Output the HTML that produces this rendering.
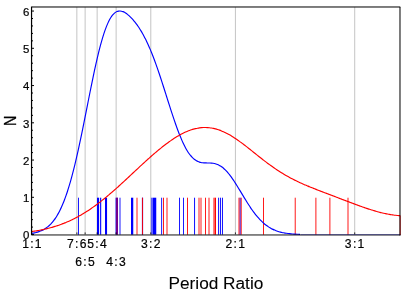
<!DOCTYPE html>
<html><head><meta charset="utf-8"><title>Period Ratio</title>
<style>html,body{margin:0;padding:0;background:#fff;width:407px;height:293px;overflow:hidden;font-family:"Liberation Sans",sans-serif}</style></head>
<body>
<svg width="407" height="293" viewBox="0 0 407 293" style="display:block;position:absolute;left:0;top:0">
<rect width="407" height="293" fill="#fff"/>
<line x1="76.85" y1="7" x2="76.85" y2="234.7" stroke="#c4c4c4" stroke-width="1"/>
<line x1="85.14" y1="7" x2="85.14" y2="234.7" stroke="#c4c4c4" stroke-width="1"/>
<line x1="97.15" y1="7" x2="97.15" y2="234.7" stroke="#c4c4c4" stroke-width="1"/>
<line x1="116.14" y1="7" x2="116.14" y2="234.7" stroke="#c4c4c4" stroke-width="1"/>
<line x1="150.79" y1="7" x2="150.79" y2="234.7" stroke="#c4c4c4" stroke-width="1"/>
<line x1="235.42" y1="7" x2="235.42" y2="234.7" stroke="#c4c4c4" stroke-width="1"/>
<line x1="354.71" y1="7" x2="354.71" y2="234.7" stroke="#c4c4c4" stroke-width="1"/>
<rect x="78.05" y="197.7" width="0.90" height="37" fill="#0000ff" fill-opacity="1"/>
<rect x="97.00" y="197.7" width="2.10" height="37" fill="#0000ff" fill-opacity="1"/>
<rect x="100.10" y="197.7" width="1.10" height="37" fill="#0000ff" fill-opacity="1"/>
<rect x="105.00" y="197.7" width="2.05" height="37" fill="#0000ff" fill-opacity="1"/>
<rect x="115.60" y="197.7" width="2.40" height="37" fill="#0000ff" fill-opacity="1"/>
<rect x="119.55" y="197.7" width="0.90" height="37" fill="#0000ff" fill-opacity="1"/>
<rect x="131.00" y="197.7" width="2.25" height="37" fill="#0000ff" fill-opacity="1"/>
<rect x="141.90" y="197.7" width="1.20" height="37" fill="#0000ff" fill-opacity="1"/>
<rect x="150.90" y="197.7" width="2.10" height="37" fill="#0000ff" fill-opacity="0.6"/>
<rect x="153.00" y="197.7" width="3.25" height="37" fill="#0000ff" fill-opacity="1"/>
<rect x="161.20" y="197.7" width="0.90" height="37" fill="#0000ff" fill-opacity="1"/>
<rect x="179.05" y="197.7" width="0.90" height="37" fill="#0000ff" fill-opacity="1"/>
<rect x="183.05" y="197.7" width="0.90" height="37" fill="#0000ff" fill-opacity="1"/>
<rect x="194.10" y="197.7" width="0.95" height="37" fill="#0000ff" fill-opacity="1"/>
<rect x="218.15" y="197.7" width="0.95" height="37" fill="#0000ff" fill-opacity="1"/>
<rect x="220.05" y="197.7" width="0.90" height="37" fill="#0000ff" fill-opacity="1"/>
<rect x="221.95" y="197.7" width="0.95" height="37" fill="#0000ff" fill-opacity="1"/>
<rect x="239.60" y="197.7" width="1.00" height="37" fill="#0000ff" fill-opacity="1"/>
<rect x="116.55" y="197.7" width="0.90" height="37" fill="#ff0000" fill-opacity="1"/>
<rect x="136.55" y="197.7" width="0.90" height="37" fill="#ff0000" fill-opacity="1"/>
<rect x="142.00" y="197.7" width="0.90" height="37" fill="#ff0000" fill-opacity="1"/>
<rect x="163.00" y="197.7" width="0.90" height="37" fill="#ff0000" fill-opacity="1"/>
<rect x="166.55" y="197.7" width="0.90" height="37" fill="#ff0000" fill-opacity="1"/>
<rect x="187.05" y="197.7" width="0.90" height="37" fill="#ff0000" fill-opacity="1"/>
<rect x="198.55" y="197.7" width="0.90" height="37" fill="#ff0000" fill-opacity="1"/>
<rect x="200.55" y="197.7" width="0.90" height="37" fill="#ff0000" fill-opacity="1"/>
<rect x="205.05" y="197.7" width="0.90" height="37" fill="#ff0000" fill-opacity="1"/>
<rect x="208.55" y="197.7" width="0.90" height="37" fill="#ff0000" fill-opacity="1"/>
<rect x="213.50" y="197.7" width="0.90" height="37" fill="#ff0000" fill-opacity="1"/>
<rect x="214.60" y="197.7" width="1.40" height="37" fill="#ff0000" fill-opacity="1"/>
<rect x="238.55" y="197.7" width="0.90" height="37" fill="#ff0000" fill-opacity="1"/>
<rect x="240.78" y="197.7" width="0.87" height="37" fill="#ff0000" fill-opacity="1"/>
<rect x="263.05" y="197.7" width="0.90" height="37" fill="#ff0000" fill-opacity="1"/>
<rect x="294.75" y="197.7" width="0.90" height="37" fill="#ff0000" fill-opacity="1"/>
<rect x="315.45" y="197.7" width="0.90" height="37" fill="#ff0000" fill-opacity="1"/>
<rect x="329.45" y="197.7" width="0.90" height="37" fill="#ff0000" fill-opacity="1"/>
<rect x="347.55" y="197.7" width="0.90" height="37" fill="#ff0000" fill-opacity="1"/>
<path d="M31.50,233.41 C31.75,233.37 32.50,233.26 33.00,233.16 C33.50,233.07 34.00,232.97 34.50,232.87 C35.00,232.76 35.50,232.64 36.00,232.51 C36.50,232.39 37.00,232.25 37.50,232.10 C38.00,231.95 38.50,231.79 39.00,231.62 C39.50,231.44 40.00,231.25 40.50,231.05 C41.00,230.85 41.50,230.63 42.00,230.39 C42.50,230.16 43.00,229.90 43.50,229.63 C44.00,229.36 44.50,229.07 45.00,228.75 C45.50,228.44 46.00,228.10 46.50,227.74 C47.00,227.38 47.50,227.00 48.00,226.59 C48.50,226.18 49.00,225.74 49.50,225.27 C50.00,224.81 50.50,224.31 51.00,223.79 C51.50,223.26 52.00,222.70 52.50,222.10 C53.00,221.51 53.50,220.88 54.00,220.21 C54.50,219.55 55.00,218.84 55.50,218.10 C56.00,217.35 56.50,216.57 57.00,215.74 C57.50,214.91 58.00,214.04 58.50,213.12 C59.00,212.20 59.50,211.24 60.00,210.23 C60.50,209.22 61.00,208.16 61.50,207.05 C62.00,205.94 62.50,204.78 63.00,203.56 C63.50,202.35 64.00,201.09 64.50,199.77 C65.00,198.45 65.50,197.08 66.00,195.65 C66.50,194.22 67.00,192.74 67.50,191.20 C68.00,189.67 68.50,188.07 69.00,186.43 C69.50,184.78 70.00,183.07 70.50,181.31 C71.00,179.56 71.50,177.74 72.00,175.88 C72.50,174.01 73.00,172.09 73.50,170.12 C74.00,168.14 74.50,166.12 75.00,164.05 C75.50,161.98 76.00,159.85 76.50,157.69 C77.00,155.52 77.50,153.31 78.00,151.05 C78.50,148.80 79.00,146.51 79.50,144.18 C80.00,141.85 80.50,139.48 81.00,137.09 C81.50,134.69 82.00,132.26 82.50,129.81 C83.00,127.37 83.50,124.89 84.00,122.40 C84.50,119.91 85.00,117.40 85.50,114.89 C86.00,112.38 86.50,109.85 87.00,107.33 C87.50,104.80 88.00,102.27 88.50,99.76 C89.00,97.24 89.50,94.73 90.00,92.24 C90.50,89.75 91.00,87.27 91.50,84.82 C92.00,82.37 92.50,79.94 93.00,77.55 C93.50,75.16 94.00,72.79 94.50,70.48 C95.00,68.16 95.50,65.88 96.00,63.66 C96.50,61.44 97.00,59.26 97.50,57.14 C98.00,55.03 98.50,52.96 99.00,50.97 C99.50,48.97 100.00,47.04 100.50,45.17 C101.00,43.31 101.50,41.51 102.00,39.79 C102.50,38.07 103.00,36.43 103.50,34.86 C104.00,33.29 104.50,31.79 105.00,30.38 C105.50,28.97 106.00,27.64 106.50,26.39 C107.00,25.14 107.50,23.97 108.00,22.88 C108.50,21.79 109.00,20.78 109.50,19.85 C110.00,18.92 110.50,18.08 111.00,17.30 C111.50,16.53 112.00,15.84 112.50,15.22 C113.00,14.60 113.50,14.06 114.00,13.59 C114.50,13.11 115.00,12.71 115.50,12.38 C116.00,12.04 116.50,11.77 117.00,11.56 C117.50,11.35 118.00,11.21 118.50,11.11 C119.00,11.02 119.50,10.99 120.00,11.00 C120.50,11.01 121.00,11.08 121.50,11.19 C122.00,11.30 122.50,11.45 123.00,11.65 C123.50,11.84 124.00,12.08 124.50,12.35 C125.00,12.61 125.50,12.92 126.00,13.26 C126.50,13.59 127.00,13.96 127.50,14.36 C128.00,14.76 128.50,15.18 129.00,15.63 C129.50,16.08 130.00,16.56 130.50,17.06 C131.00,17.56 131.50,18.08 132.00,18.62 C132.50,19.17 133.00,19.74 133.50,20.33 C134.00,20.92 134.50,21.53 135.00,22.17 C135.50,22.80 136.00,23.46 136.50,24.14 C137.00,24.82 137.50,25.52 138.00,26.25 C138.50,26.97 139.00,27.72 139.50,28.50 C140.00,29.27 140.50,30.07 141.00,30.90 C141.50,31.73 142.00,32.58 142.50,33.46 C143.00,34.34 143.50,35.25 144.00,36.19 C144.50,37.13 145.00,38.10 145.50,39.09 C146.00,40.09 146.50,41.12 147.00,42.17 C147.50,43.23 148.00,44.32 148.50,45.43 C149.00,46.55 149.50,47.70 150.00,48.88 C150.50,50.05 151.00,51.26 151.50,52.50 C152.00,53.73 152.50,55.00 153.00,56.29 C153.50,57.59 154.00,58.91 154.50,60.26 C155.00,61.61 155.50,62.98 156.00,64.38 C156.50,65.78 157.00,67.20 157.50,68.64 C158.00,70.09 158.50,71.55 159.00,73.03 C159.50,74.52 160.00,76.02 160.50,77.54 C161.00,79.05 161.50,80.59 162.00,82.13 C162.50,83.67 163.00,85.23 163.50,86.80 C164.00,88.36 164.50,89.93 165.00,91.51 C165.50,93.08 166.00,94.67 166.50,96.25 C167.00,97.82 167.50,99.41 168.00,100.98 C168.50,102.56 169.00,104.13 169.50,105.69 C170.00,107.25 170.50,108.81 171.00,110.35 C171.50,111.89 172.00,113.42 172.50,114.93 C173.00,116.44 173.50,117.94 174.00,119.41 C174.50,120.88 175.00,122.34 175.50,123.76 C176.00,125.19 176.50,126.59 177.00,127.96 C177.50,129.33 178.00,130.67 178.50,131.97 C179.00,133.28 179.50,134.55 180.00,135.79 C180.50,137.02 181.00,138.22 181.50,139.38 C182.00,140.54 182.50,141.66 183.00,142.74 C183.50,143.81 184.00,144.84 184.50,145.83 C185.00,146.82 185.50,147.76 186.00,148.66 C186.50,149.56 187.00,150.41 187.50,151.21 C188.00,152.02 188.50,152.78 189.00,153.49 C189.50,154.20 190.00,154.86 190.50,155.48 C191.00,156.10 191.50,156.67 192.00,157.19 C192.50,157.72 193.00,158.20 193.50,158.64 C194.00,159.08 194.50,159.48 195.00,159.83 C195.50,160.19 196.00,160.51 196.50,160.79 C197.00,161.07 197.50,161.31 198.00,161.53 C198.50,161.74 199.00,161.92 199.50,162.08 C200.00,162.23 200.50,162.35 201.00,162.46 C201.50,162.56 202.00,162.64 202.50,162.70 C203.00,162.77 203.50,162.81 204.00,162.85 C204.50,162.88 205.00,162.90 205.50,162.92 C206.00,162.93 206.50,162.94 207.00,162.95 C207.50,162.95 208.00,162.96 208.50,162.97 C209.00,162.98 209.50,162.99 210.00,163.01 C210.50,163.03 211.00,163.06 211.50,163.10 C212.00,163.15 212.50,163.20 213.00,163.28 C213.50,163.35 214.00,163.44 214.50,163.55 C215.00,163.66 215.50,163.79 216.00,163.95 C216.50,164.10 217.00,164.28 217.50,164.48 C218.00,164.69 218.50,164.92 219.00,165.17 C219.50,165.43 220.00,165.72 220.50,166.03 C221.00,166.34 221.50,166.68 222.00,167.05 C222.50,167.42 223.00,167.82 223.50,168.25 C224.00,168.68 224.50,169.14 225.00,169.62 C225.50,170.11 226.00,170.62 226.50,171.16 C227.00,171.70 227.50,172.27 228.00,172.86 C228.50,173.45 229.00,174.07 229.50,174.71 C230.00,175.35 230.50,176.02 231.00,176.70 C231.50,177.39 232.00,178.10 232.50,178.82 C233.00,179.54 233.50,180.28 234.00,181.04 C234.50,181.80 235.00,182.57 235.50,183.36 C236.00,184.14 236.50,184.94 237.00,185.74 C237.50,186.55 238.00,187.36 238.50,188.18 C239.00,189.00 239.50,189.83 240.00,190.66 C240.50,191.49 241.00,192.33 241.50,193.16 C242.00,193.99 242.50,194.82 243.00,195.65 C243.50,196.48 244.00,197.31 244.50,198.13 C245.00,198.95 245.50,199.77 246.00,200.57 C246.50,201.38 247.00,202.18 247.50,202.97 C248.00,203.76 248.50,204.54 249.00,205.31 C249.50,206.07 250.00,206.83 250.50,207.57 C251.00,208.31 251.50,209.04 252.00,209.75 C252.50,210.46 253.00,211.15 253.50,211.83 C254.00,212.51 254.50,213.18 255.00,213.82 C255.50,214.47 256.00,215.10 256.50,215.71 C257.00,216.32 257.50,216.91 258.00,217.48 C258.50,218.06 259.00,218.61 259.50,219.15 C260.00,219.69 260.50,220.20 261.00,220.70 C261.50,221.20 262.00,221.69 262.50,222.15 C263.00,222.61 263.50,223.06 264.00,223.49 C264.50,223.91 265.00,224.32 265.50,224.71 C266.00,225.11 266.50,225.48 267.00,225.84 C267.50,226.20 268.00,226.54 268.50,226.87 C269.00,227.19 269.50,227.50 270.00,227.80 C270.50,228.09 271.00,228.37 271.50,228.64 C272.00,228.90 272.50,229.15 273.00,229.39 C273.50,229.63 274.00,229.86 274.50,230.07 C275.00,230.28 275.50,230.48 276.00,230.67 C276.50,230.86 277.00,231.04 277.50,231.21 C278.00,231.38 278.50,231.53 279.00,231.68 C279.50,231.83 280.00,231.97 280.50,232.10 C281.00,232.23 281.50,232.35 282.00,232.46 C282.50,232.58 283.00,232.68 283.50,232.78 C284.00,232.88 284.50,232.97 285.00,233.06 C285.50,233.15 286.00,233.22 286.50,233.30 C287.00,233.37 287.50,233.44 288.00,233.50 C288.50,233.57 289.00,233.63 289.50,233.68 C290.00,233.74 290.50,233.79 291.00,233.83 C291.50,233.88 292.00,233.92 292.50,233.96 C293.00,234.00 293.50,234.04 294.00,234.07 C294.50,234.10 295.00,234.13 295.50,234.16 C296.00,234.19 296.50,234.22 297.00,234.24 C297.50,234.26 298.00,234.28 298.50,234.30 C299.00,234.32 299.75,234.35 300.00,234.36" fill="none" stroke="#0000ff" stroke-width="1.15" stroke-linejoin="round"/>
<rect x="300.5" y="234" width="100" height="1.1" fill="#0000ff" fill-opacity="0.36"/>
<path d="M31.50,231.58 C31.83,231.53 32.83,231.39 33.50,231.29 C34.17,231.19 34.83,231.08 35.50,230.98 C36.17,230.87 36.83,230.75 37.50,230.64 C38.17,230.52 38.83,230.40 39.50,230.27 C40.17,230.15 40.83,230.01 41.50,229.88 C42.17,229.74 42.83,229.61 43.50,229.46 C44.17,229.32 44.83,229.17 45.50,229.01 C46.17,228.86 46.83,228.70 47.50,228.54 C48.17,228.37 48.83,228.20 49.50,228.03 C50.17,227.85 50.83,227.67 51.50,227.48 C52.17,227.30 52.83,227.10 53.50,226.91 C54.17,226.71 54.83,226.50 55.50,226.29 C56.17,226.08 56.83,225.87 57.50,225.65 C58.17,225.42 58.83,225.20 59.50,224.96 C60.17,224.73 60.83,224.48 61.50,224.24 C62.17,223.99 62.83,223.73 63.50,223.47 C64.17,223.21 64.83,222.94 65.50,222.67 C66.17,222.39 66.83,222.11 67.50,221.82 C68.17,221.53 68.83,221.24 69.50,220.94 C70.17,220.63 70.83,220.32 71.50,220.01 C72.17,219.69 72.83,219.36 73.50,219.03 C74.17,218.70 74.83,218.36 75.50,218.02 C76.17,217.67 76.83,217.32 77.50,216.96 C78.17,216.59 78.83,216.23 79.50,215.85 C80.17,215.48 80.83,215.09 81.50,214.70 C82.17,214.31 82.83,213.91 83.50,213.51 C84.17,213.11 84.83,212.69 85.50,212.27 C86.17,211.85 86.83,211.43 87.50,210.99 C88.17,210.56 88.83,210.12 89.50,209.67 C90.17,209.22 90.83,208.77 91.50,208.31 C92.17,207.85 92.83,207.38 93.50,206.90 C94.17,206.43 94.83,205.95 95.50,205.46 C96.17,204.97 96.83,204.47 97.50,203.97 C98.17,203.47 98.83,202.96 99.50,202.45 C100.17,201.94 100.83,201.42 101.50,200.89 C102.17,200.37 102.83,199.83 103.50,199.30 C104.17,198.76 104.83,198.22 105.50,197.67 C106.17,197.12 106.83,196.57 107.50,196.01 C108.17,195.45 108.83,194.89 109.50,194.32 C110.17,193.76 110.83,193.18 111.50,192.61 C112.17,192.03 112.83,191.45 113.50,190.87 C114.17,190.28 114.83,189.69 115.50,189.10 C116.17,188.51 116.83,187.91 117.50,187.31 C118.17,186.72 118.83,186.11 119.50,185.51 C120.17,184.90 120.83,184.30 121.50,183.69 C122.17,183.08 122.83,182.46 123.50,181.85 C124.17,181.24 124.83,180.62 125.50,180.00 C126.17,179.39 126.83,178.77 127.50,178.15 C128.17,177.53 128.83,176.90 129.50,176.28 C130.17,175.66 130.83,175.04 131.50,174.41 C132.17,173.79 132.83,173.17 133.50,172.54 C134.17,171.92 134.83,171.29 135.50,170.67 C136.17,170.05 136.83,169.43 137.50,168.81 C138.17,168.18 138.83,167.56 139.50,166.94 C140.17,166.33 140.83,165.71 141.50,165.09 C142.17,164.48 142.83,163.86 143.50,163.25 C144.17,162.64 144.83,162.03 145.50,161.42 C146.17,160.82 146.83,160.21 147.50,159.61 C148.17,159.01 148.83,158.41 149.50,157.82 C150.17,157.22 150.83,156.63 151.50,156.05 C152.17,155.46 152.83,154.88 153.50,154.30 C154.17,153.72 154.83,153.15 155.50,152.58 C156.17,152.01 156.83,151.45 157.50,150.89 C158.17,150.33 158.83,149.78 159.50,149.23 C160.17,148.68 160.83,148.14 161.50,147.61 C162.17,147.07 162.83,146.55 163.50,146.03 C164.17,145.50 164.83,144.99 165.50,144.48 C166.17,143.98 166.83,143.48 167.50,142.99 C168.17,142.50 168.83,142.01 169.50,141.54 C170.17,141.07 170.83,140.60 171.50,140.14 C172.17,139.69 172.83,139.24 173.50,138.80 C174.17,138.36 174.83,137.93 175.50,137.52 C176.17,137.10 176.83,136.69 177.50,136.30 C178.17,135.90 178.83,135.51 179.50,135.14 C180.17,134.76 180.83,134.40 181.50,134.05 C182.17,133.70 182.83,133.36 183.50,133.04 C184.17,132.71 184.83,132.40 185.50,132.09 C186.17,131.79 186.83,131.51 187.50,131.23 C188.17,130.96 188.83,130.70 189.50,130.45 C190.17,130.21 190.83,129.98 191.50,129.76 C192.17,129.54 192.83,129.34 193.50,129.16 C194.17,128.97 194.83,128.80 195.50,128.64 C196.17,128.49 196.83,128.34 197.50,128.22 C198.17,128.10 198.83,127.99 199.50,127.90 C200.17,127.80 200.83,127.73 201.50,127.67 C202.17,127.61 202.83,127.57 203.50,127.54 C204.17,127.51 204.83,127.50 205.50,127.51 C206.17,127.52 206.83,127.54 207.50,127.59 C208.17,127.63 208.83,127.69 209.50,127.76 C210.17,127.84 210.83,127.93 211.50,128.04 C212.17,128.15 212.83,128.27 213.50,128.42 C214.17,128.56 214.83,128.72 215.50,128.89 C216.17,129.07 216.83,129.26 217.50,129.47 C218.17,129.68 218.83,129.90 219.50,130.14 C220.17,130.38 220.83,130.64 221.50,130.91 C222.17,131.18 222.83,131.46 223.50,131.76 C224.17,132.06 224.83,132.38 225.50,132.71 C226.17,133.04 226.83,133.38 227.50,133.73 C228.17,134.09 228.83,134.46 229.50,134.84 C230.17,135.22 230.83,135.61 231.50,136.02 C232.17,136.42 232.83,136.84 233.50,137.26 C234.17,137.69 234.83,138.13 235.50,138.57 C236.17,139.02 236.83,139.48 237.50,139.94 C238.17,140.41 238.83,140.88 239.50,141.36 C240.17,141.84 240.83,142.33 241.50,142.82 C242.17,143.32 242.83,143.82 243.50,144.33 C244.17,144.83 244.83,145.35 245.50,145.86 C246.17,146.38 246.83,146.90 247.50,147.42 C248.17,147.95 248.83,148.47 249.50,149.00 C250.17,149.53 250.83,150.06 251.50,150.60 C252.17,151.13 252.83,151.66 253.50,152.20 C254.17,152.73 254.83,153.27 255.50,153.80 C256.17,154.33 256.83,154.87 257.50,155.40 C258.17,155.93 258.83,156.46 259.50,156.99 C260.17,157.52 260.83,158.04 261.50,158.57 C262.17,159.09 262.83,159.61 263.50,160.12 C264.17,160.64 264.83,161.15 265.50,161.66 C266.17,162.16 266.83,162.67 267.50,163.17 C268.17,163.66 268.83,164.16 269.50,164.64 C270.17,165.13 270.83,165.61 271.50,166.09 C272.17,166.57 272.83,167.04 273.50,167.50 C274.17,167.97 274.83,168.42 275.50,168.88 C276.17,169.33 276.83,169.77 277.50,170.21 C278.17,170.65 278.83,171.08 279.50,171.51 C280.17,171.94 280.83,172.36 281.50,172.77 C282.17,173.18 282.83,173.59 283.50,173.99 C284.17,174.39 284.83,174.78 285.50,175.17 C286.17,175.55 286.83,175.93 287.50,176.31 C288.17,176.68 288.83,177.05 289.50,177.41 C290.17,177.77 290.83,178.13 291.50,178.48 C292.17,178.83 292.83,179.17 293.50,179.51 C294.17,179.85 294.83,180.18 295.50,180.51 C296.17,180.84 296.83,181.16 297.50,181.48 C298.17,181.80 298.83,182.11 299.50,182.42 C300.17,182.73 300.83,183.03 301.50,183.33 C302.17,183.63 302.83,183.93 303.50,184.22 C304.17,184.51 304.83,184.80 305.50,185.08 C306.17,185.37 306.83,185.65 307.50,185.93 C308.17,186.21 308.83,186.49 309.50,186.76 C310.17,187.03 310.83,187.30 311.50,187.57 C312.17,187.84 312.83,188.11 313.50,188.37 C314.17,188.64 314.83,188.90 315.50,189.16 C316.17,189.43 316.83,189.69 317.50,189.95 C318.17,190.20 318.83,190.46 319.50,190.72 C320.17,190.98 320.83,191.23 321.50,191.49 C322.17,191.74 322.83,192.00 323.50,192.25 C324.17,192.51 324.83,192.76 325.50,193.01 C326.17,193.27 326.83,193.52 327.50,193.78 C328.17,194.03 328.83,194.28 329.50,194.54 C330.17,194.79 330.83,195.04 331.50,195.30 C332.17,195.55 332.83,195.80 333.50,196.06 C334.17,196.31 334.83,196.56 335.50,196.82 C336.17,197.07 336.83,197.33 337.50,197.58 C338.17,197.83 338.83,198.09 339.50,198.34 C340.17,198.60 340.83,198.85 341.50,199.11 C342.17,199.36 342.83,199.61 343.50,199.87 C344.17,200.12 344.83,200.38 345.50,200.63 C346.17,200.88 346.83,201.14 347.50,201.39 C348.17,201.65 348.83,201.90 349.50,202.15 C350.17,202.40 350.83,202.65 351.50,202.91 C352.17,203.16 352.83,203.41 353.50,203.66 C354.17,203.90 354.83,204.15 355.50,204.40 C356.17,204.65 356.83,204.89 357.50,205.14 C358.17,205.38 358.83,205.62 359.50,205.86 C360.17,206.10 360.83,206.34 361.50,206.58 C362.17,206.81 362.83,207.05 363.50,207.28 C364.17,207.51 364.83,207.74 365.50,207.97 C366.17,208.20 366.83,208.42 367.50,208.64 C368.17,208.87 368.83,209.08 369.50,209.30 C370.17,209.51 370.83,209.73 371.50,209.93 C372.17,210.14 372.83,210.35 373.50,210.55 C374.17,210.75 374.83,210.95 375.50,211.14 C376.17,211.33 376.83,211.52 377.50,211.70 C378.17,211.88 378.83,212.06 379.50,212.24 C380.17,212.41 380.83,212.58 381.50,212.74 C382.17,212.91 382.83,213.07 383.50,213.22 C384.17,213.37 384.83,213.52 385.50,213.66 C386.17,213.80 386.83,213.93 387.50,214.06 C388.17,214.19 388.83,214.31 389.50,214.43 C390.17,214.54 390.83,214.65 391.50,214.76 C392.17,214.86 392.83,214.95 393.50,215.04 C394.17,215.13 394.83,215.21 395.50,215.28 C396.17,215.35 396.83,215.42 397.50,215.47 C398.17,215.53 399.13,215.59 399.50,215.62 C399.87,215.64 399.67,215.63 399.70,215.63" fill="none" stroke="#ff0000" stroke-width="1.15" stroke-linejoin="round"/>
<rect x="399.7" y="215.6" width="1.0" height="19.4" fill="#ff0000" fill-opacity="0.85"/>
<rect x="32" y="6" width="368.3" height="1.95" fill="#000" fill-opacity="0.52"/>
<rect x="399" y="7" width="1.95" height="228.5" fill="#000" fill-opacity="0.52"/>
<rect x="32" y="234" width="368.3" height="1.85" fill="#000" fill-opacity="0.5"/>
<rect x="30.95" y="6.5" width="1.2" height="228.8" fill="#000"/>
<line x1="32" y1="234.55" x2="34.00" y2="234.55" stroke="#000" stroke-width="1"/>
<line x1="32" y1="227.10" x2="33.00" y2="227.10" stroke="#000" stroke-width="1"/>
<line x1="32" y1="219.65" x2="33.00" y2="219.65" stroke="#000" stroke-width="1"/>
<line x1="32" y1="212.20" x2="33.00" y2="212.20" stroke="#000" stroke-width="1"/>
<line x1="32" y1="204.75" x2="33.00" y2="204.75" stroke="#000" stroke-width="1"/>
<line x1="32" y1="197.30" x2="34.00" y2="197.30" stroke="#000" stroke-width="1"/>
<line x1="32" y1="189.85" x2="33.00" y2="189.85" stroke="#000" stroke-width="1"/>
<line x1="32" y1="182.40" x2="33.00" y2="182.40" stroke="#000" stroke-width="1"/>
<line x1="32" y1="174.95" x2="33.00" y2="174.95" stroke="#000" stroke-width="1"/>
<line x1="32" y1="167.50" x2="33.00" y2="167.50" stroke="#000" stroke-width="1"/>
<line x1="32" y1="160.05" x2="34.00" y2="160.05" stroke="#000" stroke-width="1"/>
<line x1="32" y1="152.60" x2="33.00" y2="152.60" stroke="#000" stroke-width="1"/>
<line x1="32" y1="145.15" x2="33.00" y2="145.15" stroke="#000" stroke-width="1"/>
<line x1="32" y1="137.70" x2="33.00" y2="137.70" stroke="#000" stroke-width="1"/>
<line x1="32" y1="130.25" x2="33.00" y2="130.25" stroke="#000" stroke-width="1"/>
<line x1="32" y1="122.80" x2="34.00" y2="122.80" stroke="#000" stroke-width="1"/>
<line x1="32" y1="115.35" x2="33.00" y2="115.35" stroke="#000" stroke-width="1"/>
<line x1="32" y1="107.90" x2="33.00" y2="107.90" stroke="#000" stroke-width="1"/>
<line x1="32" y1="100.45" x2="33.00" y2="100.45" stroke="#000" stroke-width="1"/>
<line x1="32" y1="93.00" x2="33.00" y2="93.00" stroke="#000" stroke-width="1"/>
<line x1="32" y1="85.55" x2="34.00" y2="85.55" stroke="#000" stroke-width="1"/>
<line x1="32" y1="78.10" x2="33.00" y2="78.10" stroke="#000" stroke-width="1"/>
<line x1="32" y1="70.65" x2="33.00" y2="70.65" stroke="#000" stroke-width="1"/>
<line x1="32" y1="63.20" x2="33.00" y2="63.20" stroke="#000" stroke-width="1"/>
<line x1="32" y1="55.75" x2="33.00" y2="55.75" stroke="#000" stroke-width="1"/>
<line x1="32" y1="48.30" x2="34.00" y2="48.30" stroke="#000" stroke-width="1"/>
<line x1="32" y1="40.85" x2="33.00" y2="40.85" stroke="#000" stroke-width="1"/>
<line x1="32" y1="33.40" x2="33.00" y2="33.40" stroke="#000" stroke-width="1"/>
<line x1="32" y1="25.95" x2="33.00" y2="25.95" stroke="#000" stroke-width="1"/>
<line x1="32" y1="18.50" x2="33.00" y2="18.50" stroke="#000" stroke-width="1"/>
<line x1="32" y1="11.05" x2="34.00" y2="11.05" stroke="#000" stroke-width="1"/>
<line x1="76.85" y1="232.4" x2="76.85" y2="234.3" stroke="#000" stroke-width="0.8"/>
<line x1="85.14" y1="232.4" x2="85.14" y2="234.3" stroke="#000" stroke-width="0.8"/>
<line x1="97.15" y1="232.4" x2="97.15" y2="234.3" stroke="#000" stroke-width="0.8"/>
<line x1="116.14" y1="232.4" x2="116.14" y2="234.3" stroke="#000" stroke-width="0.8"/>
<line x1="150.79" y1="232.4" x2="150.79" y2="234.3" stroke="#000" stroke-width="0.8"/>
<line x1="235.42" y1="232.4" x2="235.42" y2="234.3" stroke="#000" stroke-width="0.8"/>
<line x1="354.71" y1="232.4" x2="354.71" y2="234.3" stroke="#000" stroke-width="0.8"/>
<g style="opacity:0.999" font-family="Liberation Sans, sans-serif" fill="#000" stroke="#000" stroke-width="0.22">
<text transform="translate(29.3,239.25) scale(0.97,1)" text-anchor="end" font-size="11.8">0</text>
<text transform="translate(29.3,202.00) scale(0.97,1)" text-anchor="end" font-size="11.8">1</text>
<text transform="translate(29.3,164.75) scale(0.97,1)" text-anchor="end" font-size="11.8">2</text>
<text transform="translate(29.3,127.50) scale(0.97,1)" text-anchor="end" font-size="11.8">3</text>
<text transform="translate(29.3,90.25) scale(0.97,1)" text-anchor="end" font-size="11.8">4</text>
<text transform="translate(29.3,53.00) scale(0.97,1)" text-anchor="end" font-size="11.8">5</text>
<text transform="translate(29.3,15.75) scale(0.97,1)" text-anchor="end" font-size="11.8">6</text>
<text transform="translate(22.30,247.90) scale(0.97,1)" font-size="12.5" letter-spacing="1.15">1:1</text>
<text transform="translate(66.95,247.90) scale(0.97,1)" font-size="12.5" letter-spacing="1.4">7:6</text>
<text transform="translate(87.25,247.90) scale(0.97,1)" font-size="12.5" letter-spacing="1.4">5:4</text>
<text transform="translate(140.89,247.90) scale(0.97,1)" font-size="12.5" letter-spacing="1.4">3:2</text>
<text transform="translate(225.52,247.90) scale(0.97,1)" font-size="12.5" letter-spacing="1.4">2:1</text>
<text transform="translate(344.81,247.90) scale(0.97,1)" font-size="12.5" letter-spacing="1.4">3:1</text>
<text transform="translate(75.24,265.70) scale(0.97,1)" font-size="12.5" letter-spacing="1.4">6:5</text>
<text transform="translate(106.24,265.70) scale(0.97,1)" font-size="12.5" letter-spacing="1.4">4:3</text>
<text x="168.5" y="288.6" font-size="16" textLength="94.8" lengthAdjust="spacingAndGlyphs" stroke-width="0.08">Period Ratio</text>
<text transform="translate(15.9,126.1) rotate(-90) scale(0.86,1)" font-size="16.6" stroke-width="0.3">N</text>
</g>
</svg>
</body></html>
